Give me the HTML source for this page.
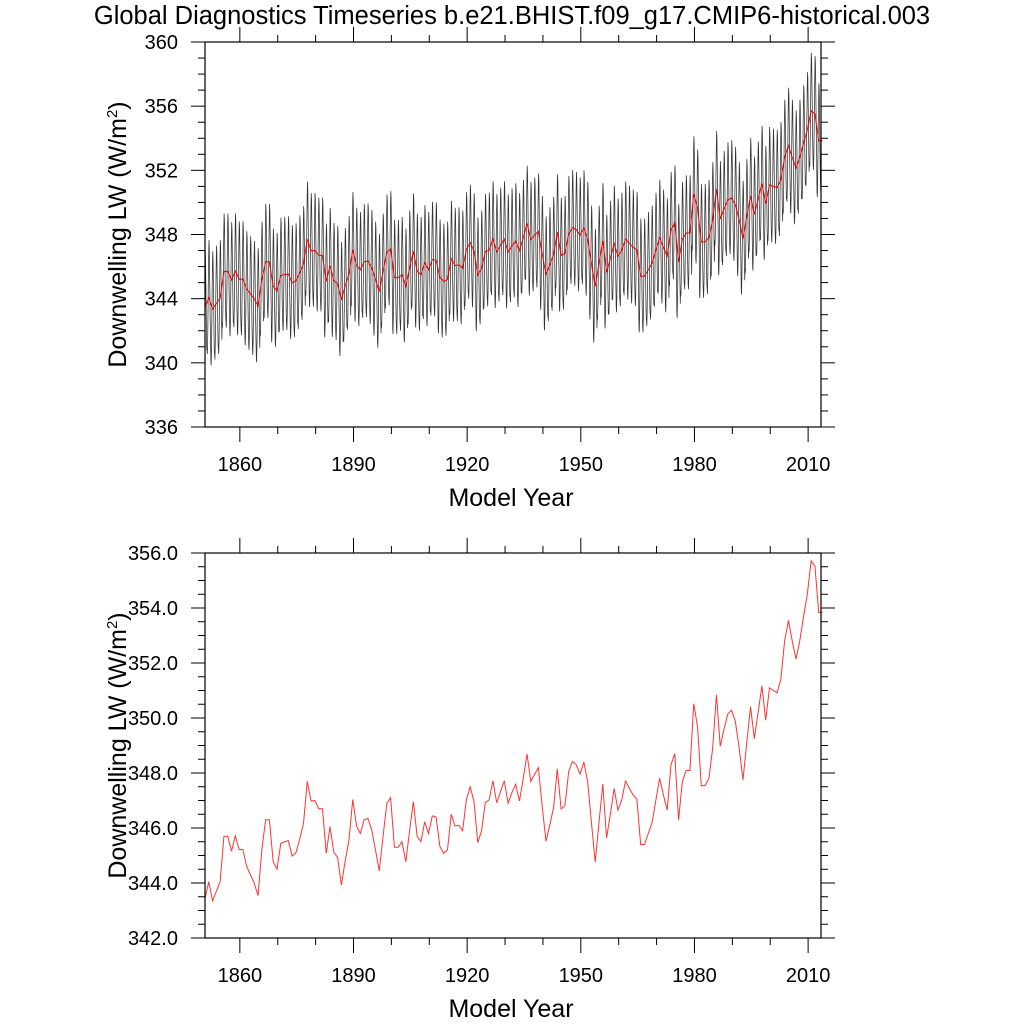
<!DOCTYPE html>
<html><head><meta charset="utf-8"><style>
html,body{margin:0;padding:0;background:#fff;}
svg{display:block;font-family:"Liberation Sans",sans-serif;}
</style></head><body>
<svg id="chart" width="1024" height="1024" xmlns="http://www.w3.org/2000/svg">
<text x="512" y="24" font-size="25.5" text-anchor="middle">Global Diagnostics Timeseries b.e21.BHIST.f09_g17.CMIP6-historical.003</text>
</svg>
<script>
const years = [];
for (let y = 1850; y <= 2013; y++) years.push(y);
const annualValues = [343.44,344.05,343.35,343.7,344.05,345.7,345.7,345.16,345.72,345.22,
345.22,344.6,344.3,343.99,343.54,345.2,346.3,346.3,344.77,344.5,
345.44,345.5,345.54,344.98,345.1,345.6,346.17,347.7,346.98,347.0,
346.7,346.7,345.08,346.05,345.12,344.93,343.93,344.8,345.56,347.04,
346.07,345.8,346.3,346.35,345.93,345.2,344.44,345.7,346.9,347.1,
345.3,345.3,345.5,344.77,345.9,346.96,345.7,345.5,346.23,345.8,
346.44,346.4,345.33,345.08,345.2,346.5,346.07,346.1,345.9,347.04,
347.5,346.96,345.47,345.9,346.93,347.02,347.72,346.92,347.32,347.72,
346.9,347.28,347.59,346.98,347.8,348.69,347.69,347.95,348.2,346.8,
345.52,346.1,346.74,348.15,346.69,346.81,348.05,348.42,348.3,347.96,
348.4,347.69,346.2,344.76,346.2,347.6,345.64,346.5,347.44,346.65,
347.02,347.71,347.45,347.2,347.05,345.4,345.4,345.8,346.2,347.0,
347.81,347.2,346.65,348.3,348.71,346.29,347.69,348.09,348.09,350.52,
349.7,347.53,347.55,347.79,348.9,350.84,348.97,349.6,350.15,350.28,
349.86,348.91,347.75,349.1,350.41,349.25,350.2,351.17,349.92,351.1,
351.0,350.92,351.41,352.81,353.55,352.8,352.14,352.81,353.7,354.52,
355.72,355.52,353.83,353.85];
const seasonalAnomaly = [-3.2,-3.5,-2.6,-1.0,0.9,2.5,3.6,3.2,1.7,0.2,-1.4,-2.6];
const xTickLabels = [1860,1890,1920,1950,1980,2010];
const topYTicks = [336,340,344,348,352,356,360];
const botYTicks = ["342.0","344.0","346.0","348.0","350.0","352.0","354.0","356.0"];

const NS = "http://www.w3.org/2000/svg";
const svg = document.getElementById('chart');
const L = 205, R = 821, T0 = 1850.8, T1 = 2013.4;
const xs = t => L + (t - T0) / (T1 - T0) * (R - L);
function mk(tag, attrs, parent) {
  const e = document.createElementNS(NS, tag);
  for (const k in attrs) e.setAttribute(k, attrs[k]);
  (parent || svg).appendChild(e);
  return e;
}
function panel(top, bottom, ymin, ymax, yMajor, yMinor, yLabels, name) {
  const g = mk('g', {});
  
  
  const ys = v => bottom - (v - ymin) / (ymax - ymin) * (bottom - top);
  for (let y = 1850; y <= 2020; y += 10) {
    const x = xs(y);
    if (x < L - 0.5 || x > R + 0.5) continue;
    const len = (y % 30 === 0) ? 15 : 7;
    mk('line', {x1: x, x2: x, y1: bottom, y2: bottom + len, stroke: '#000', 'stroke-width': 1}, g);
    mk('line', {x1: x, x2: x, y1: top, y2: top - len, stroke: '#000', 'stroke-width': 1}, g);
  }
  for (let v = ymin; v <= ymax + 1e-6; v += yMinor) {
    const y = ys(v);
    const maj = Math.abs((v - ymin) / yMajor - Math.round((v - ymin) / yMajor)) < 1e-6;
    const len = maj ? 14 : 7;
    mk('line', {x1: L, x2: L - len, y1: y, y2: y, stroke: '#000', 'stroke-width': 1}, g);
    mk('line', {x1: R, x2: R + len, y1: y, y2: y, stroke: '#000', 'stroke-width': 1}, g);
  }
  yLabels.forEach((lab, i) => {
    const t = mk('text', {x: 178, y: ys(ymin + i * yMajor) + 7, 'font-size': 20, 'text-anchor': 'end'}, g);
    
    
    t.textContent = lab;
  });
  xTickLabels.forEach(yr => {
    const t = mk('text', {x: xs(yr), y: bottom + 44, 'font-size': 20, 'text-anchor': 'middle'}, g);
    
    
    t.textContent = yr;
  });
  const xt = mk('text', {x: 511, y: bottom + 79, 'font-size': 25, 'text-anchor': 'middle'}, g);
  
  
  xt.textContent = 'Model Year';
  const cy = (top + bottom) / 2;
  const yt = mk('text', {x: 0, y: 0, 'font-size': 25, 'text-anchor': 'middle', transform: `translate(126 ${cy}) rotate(-90)`}, g);
  
  
  yt.innerHTML = 'Downwelling LW (W/m<tspan dy="-9" font-size="15">2</tspan><tspan dy="9">)</tspan>';
  return {g, ys};
}
const p1 = panel(42, 427, 336, 360, 4, 1, topYTicks.map(String), 'monthly-panel');
let d = '';
years.forEach((yr, i) => {
  seasonalAnomaly.forEach((a, m) => {
    const t = yr + 0.8 + (m - 5.5) / 12;
    if (t < T0 || t > T1) return;
    const v = annualValues[i] + a;
    d += (d ? 'L' : 'M') + xs(t).toFixed(2) + ' ' + p1.ys(v).toFixed(2);
  });
});
const ml = mk('path', {d, fill: 'none', stroke: '#333', 'stroke-width': 0.75}, p1.g);


let d2 = '';
years.forEach((yr, i) => { d2 += (i ? 'L' : 'M') + xs(yr + 0.8).toFixed(2) + ' ' + p1.ys(annualValues[i]).toFixed(2); });
const al = mk('path', {d: d2, fill: 'none', stroke: '#e00', 'stroke-width': 1}, p1.g);


mk('rect', {x: L, y: 42, width: R - L, height: 385, fill: 'none', stroke: '#000', 'stroke-width': 1.2}, p1.g);
const p2 = panel(553, 938, 342, 356, 2, 0.5, botYTicks, 'annual-panel');
let d3 = '';
years.forEach((yr, i) => { d3 += (i ? 'L' : 'M') + xs(yr + 0.8).toFixed(2) + ' ' + p2.ys(annualValues[i]).toFixed(2); });
const bl = mk('path', {d: d3, fill: 'none', stroke: '#f33', 'stroke-width': 1}, p2.g);


mk('rect', {x: L, y: 553, width: R - L, height: 385, fill: 'none', stroke: '#000', 'stroke-width': 1.2}, p2.g);
</script>
</body></html>
